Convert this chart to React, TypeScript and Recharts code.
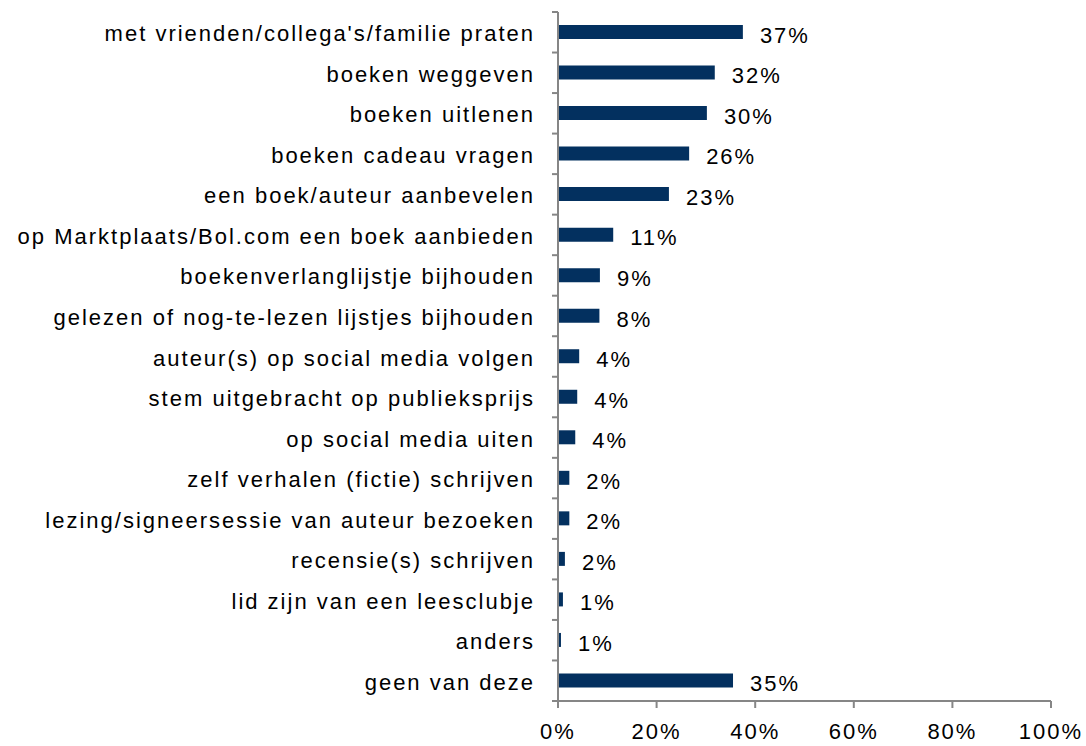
import { Bar, BarChart, LabelList, XAxis, YAxis } from "recharts";

const categories = [
  "met vrienden/collega's/familie praten",
  "boeken weggeven",
  "boeken uitlenen",
  "boeken cadeau vragen",
  "een boek/auteur aanbevelen",
  "op Marktplaats/Bol.com een boek aanbieden",
  "boekenverlanglijstje bijhouden",
  "gelezen of nog-te-lezen lijstjes bijhouden",
  "auteur(s) op social media volgen",
  "stem uitgebracht op publieksprijs",
  "op social media uiten",
  "zelf verhalen (fictie) schrijven",
  "lezing/signeersessie van auteur bezoeken",
  "recensie(s) schrijven",
  "lid zijn van een leesclubje",
  "anders",
  "geen van deze",
];

const values = [37.5, 31.8, 30.2, 26.6, 22.5, 11.2, 8.5, 8.4, 4.3, 3.9, 3.5, 2.3, 2.3, 1.4, 1.0, 0.6, 35.5];

const valueLabels = ["37%", "32%", "30%", "26%", "23%", "11%", "9%", "8%", "4%", "4%", "4%", "2%", "2%", "2%", "1%", "1%", "35%"];

const xTicks = [0, 20, 40, 60, 80, 100];

const data = categories.map((name, i) => ({ name, value: values[i], label: valueLabels[i] }));

const FONT = "'Liberation Sans', Arial, sans-serif";
const FONT_SIZE = 22;
const SPACING = 2;
const AXIS = "#868686";
const PLOT_LEFT = 558;
const PLOT_TOP = 12;
const PLOT_BOTTOM = 701;
const BAND = (PLOT_BOTTOM - PLOT_TOP) / categories.length;

function CategoryTick(props: any) {
  const { y, payload, index } = props;
  return (
    <g>
      <text
        x={PLOT_LEFT - 23}
        y={y}
        dy={9}
        textAnchor="end"
        fontSize={FONT_SIZE}
        fill="#000"
        fontFamily={FONT}
        letterSpacing={SPACING}
      >
        {payload.value}
      </text>
      <line x1={PLOT_LEFT - 6} x2={PLOT_LEFT} y1={y - BAND / 2} y2={y - BAND / 2} stroke={AXIS} strokeWidth={2} />
      {index === categories.length - 1 && (
        <line x1={PLOT_LEFT - 6} x2={PLOT_LEFT} y1={y + BAND / 2} y2={y + BAND / 2} stroke={AXIS} strokeWidth={2} />
      )}
    </g>
  );
}

export default function App() {
  return (
    <div style={{ position: "absolute", left: 0, top: 0, background: "#fff" }}>
      <BarChart
        width={1086}
        height={746}
        data={data}
        layout="vertical"
        margin={{ top: PLOT_TOP, right: 35, bottom: 0, left: 0 }}
      >
        <XAxis
          type="number"
          domain={[0, 100]}
          ticks={xTicks}
          tickFormatter={(v: number) => `${v}%`}
          height={45}
          tick={{ fontSize: FONT_SIZE, fill: "#000", fontFamily: FONT, letterSpacing: SPACING }}
          tickSize={7}
          tickMargin={15}
          axisLine={{ stroke: AXIS, strokeWidth: 2 }}
          tickLine={{ stroke: AXIS, strokeWidth: 2 }}
        />
        <YAxis
          type="category"
          dataKey="name"
          width={PLOT_LEFT}
          tick={<CategoryTick />}
          tickLine={false}
          axisLine={{ stroke: AXIS, strokeWidth: 2 }}
          interval={0}
        />
        <Bar dataKey="value" fill="#03305f" barSize={14} isAnimationActive={false}>
          <LabelList
            dataKey="label"
            position="right"
            offset={17}
            fill="#000"
            fontSize={FONT_SIZE}
            fontFamily={FONT}
            letterSpacing={SPACING}
            dy={3}
          />
        </Bar>
      </BarChart>
    </div>
  );
}
